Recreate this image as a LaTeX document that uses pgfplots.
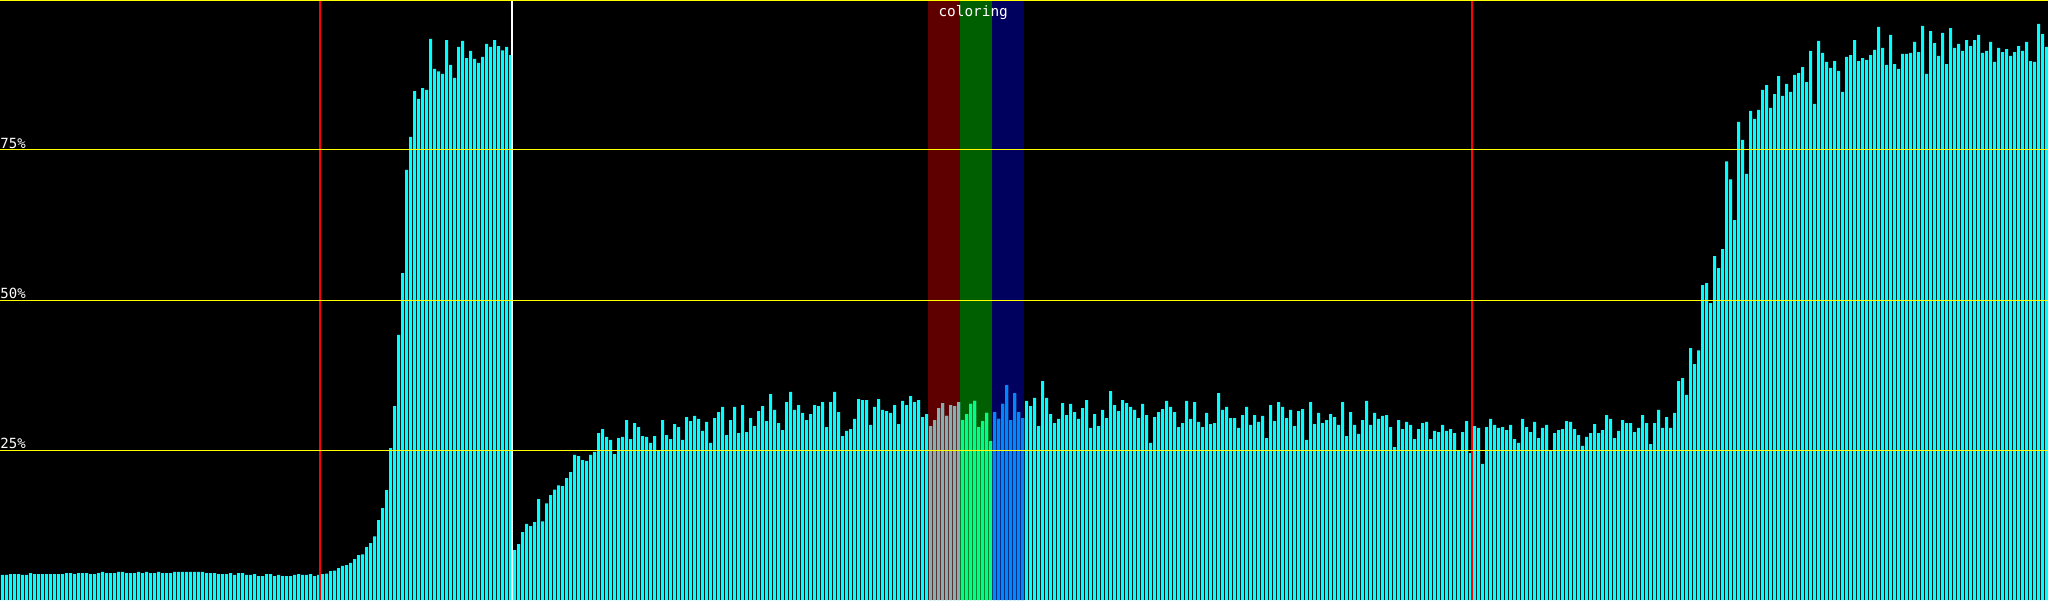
\documentclass[border=0pt]{standalone}
\usepackage{fontspec}
\setmonofont{DejaVu Sans Mono}
\usepackage{pgfplots}
\usepackage{pgfplotstable}
\pgfplotsset{compat=1.18}
\definecolor{barcyan}{HTML}{00FFFF}
\definecolor{bandred}{HTML}{5F0000}
\definecolor{bandgreen}{HTML}{005F00}
\definecolor{bandblue}{HTML}{00005F}
\definecolor{bargray}{HTML}{87AFAF}
\definecolor{bargreen}{HTML}{00FF87}
\definecolor{barblue}{HTML}{0087FF}
\definecolor{gridyellow}{HTML}{FFFF00}
\pgfplotstableread{
v
4.17
4.17
4.33
4.33
4.33
4.17
4.17
4.5
4.33
4.33
4.33
4.33
4.33
4.33
4.33
4.33
4.5
4.5
4.33
4.5
4.5
4.5
4.33
4.33
4.5
4.67
4.5
4.5
4.5
4.67
4.67
4.5
4.5
4.5
4.67
4.5
4.67
4.5
4.5
4.67
4.5
4.5
4.5
4.67
4.67
4.67
4.67
4.67
4.67
4.67
4.67
4.5
4.5
4.5
4.33
4.33
4.33
4.5
4.17
4.5
4.5
4.17
4.17
4.33
4.0
4.0
4.33
4.33
4.0
4.17
4.0
4.0
4.0
4.17
4.33
4.17
4.17
4.33
4.0
4.17
4.3
4.4
4.8
4.9
5.3
5.7
5.8
6.2
6.8
7.5
7.6
8.8
9.5
10.6
13.3
15.3
18.3
25.3
32.3
44.2
54.5
71.7
77.2
84.8
83.5
85.3
85.0
93.5
88.5
88.1
87.7
93.3
89.2
87.0
92.2
93.2
90.3
91.5
90.2
89.5
90.5
92.7
92.2
93.3
92.3
91.6
92.2
90.8
8.3
9.3
11.3
12.7
12.3
13.0
16.8
13.1
16.1
17.5
18.4
19.1
19.0
20.3
21.3
24.2
24.0
23.3
23.2
24.2
24.7
27.8
28.5
27.2
26.7
24.3
27.0
27.2
30.0
26.8
29.5
28.8
27.3
27.2
26.2
27.3
24.8
30.0
27.5
26.8
29.3
28.8
26.7
30.5
29.8
30.7
30.2
28.2
29.7
26.2
30.3
31.3
32.2
27.5
30.0
32.2
27.8
32.5
28.0
30.3
29.0
31.5
32.3
29.8
34.3
31.7
29.5
28.3
33.0
34.7
31.7
32.5
31.2
30.0
31.0
32.5
32.3
33.0
28.8
33.0
34.7
31.3
27.3
28.2
28.5
30.2
33.5
33.3
33.3
29.2
32.2
33.5
31.7
31.5
31.2
32.5
29.3
33.2
32.5
34.0
33.0
33.3
30.5
31.0
29.0
30.0
32.0
32.8
30.7
32.5
32.3
33.0
30.0
31.0
32.7
33.2
28.8
29.8
31.2
26.5
31.3
30.2
32.7
35.8
30.0
34.5
31.3
30.3
33.2
32.3
33.7
29.0
36.5
33.7
31.0
29.5
30.2
32.8
30.8
32.7
31.3
30.2
32.0
33.3
28.7
31.0
29.0
31.7
30.3
34.8
32.5
31.5
33.3
32.8
32.2
31.7
30.3
32.7
30.8
26.2
30.5
31.3
31.8
33.2
32.2
31.3
28.8
29.5
33.2
30.2
33.0
29.7
28.8
31.2
29.3
29.5
34.5
31.7
32.2
30.3
30.3
28.7
30.8
32.2
29.2
30.8
29.7
30.7
27.0
32.5
29.8
33.0
32.2
30.3
31.7
29.0
31.5
31.8
26.7
33.0
29.3
31.2
29.5
30.0
31.0
30.5
29.2
33.0
27.3
31.3
29.2
27.7
30.0
33.2
29.2
31.2
30.2
30.7
30.8
28.8
25.5
30.0
28.5
29.7
29.2
26.8
28.5
29.5
29.7
26.8
28.2
28.0
29.2
28.2
28.5
27.8
24.8
28.0
29.8
24.5
29.0
28.7
22.7
28.8
30.2
29.2
28.7
28.8
28.3
29.2
26.8
26.2
30.2
28.8
28.0
29.7
27.0
28.7
29.2
24.8
27.8
28.3
28.5
29.8
29.7
28.5
27.5
25.7
27.2
27.8
29.3
27.8
28.3
30.8
30.2
27.0
28.2
30.0
29.5
29.5
28.0
28.7
30.8
29.5
26.0
29.5
31.7
28.7
30.5
28.7
31.2
36.5
37.0
34.2
42.0
39.3
41.6
52.5
52.8
49.5
57.3
55.3
58.5
73.1
70.1
63.3
79.7
76.7
71.0
81.5
80.2
81.7
85.0
85.8
82.0
84.3
87.3
84.0
86.0
84.7
87.5
87.8
88.8
86.3
91.5
82.7
93.2
91.2
89.7
88.7
89.8
88.2
84.7
90.5
90.8
93.3
89.8
90.3
90.0
90.8
91.7
95.5
92.0
89.2
94.2
89.3
88.5
91.0
91.0
91.2
93.0
91.3
95.7
87.7
94.8
92.8
90.7
94.5
89.3
95.3
92.0
92.7
91.5
93.3
92.3
93.3
94.2
91.2
91.5
93.0
89.7
92.0
91.3
91.8
90.7
91.3
92.3
91.5
93.0
89.8
89.7
96.0
94.3
92.2
}\bars
\begin{document}
\begin{tikzpicture}
\begin{axis}[
  width=1024pt, height=300pt, scale only axis,
  xmin=0, xmax=512, ymin=0, ymax=100,
  axis background/.style={fill=black},
  axis line style={draw=none},
  tick style={draw=none},
  xtick=\empty,
  ytick={25,50,75},
  yticklabels={25\%,50\%,75\%},
  extra y ticks={99.9},
  extra y tick labels={},
  ymajorgrids,
  grid style={gridyellow, line width=0.5pt},
  yticklabel style={anchor=south west, inner sep=0pt, yshift=0.6pt,
    font=\ttfamily\fontsize{7}{8}\selectfont, text=white},
  axis on top,
]
\addplot[fill=bandred, draw=none] coordinates {(232,100) (240,100)} \closedcycle;
\addplot[fill=bandgreen, draw=none] coordinates {(240,100) (248,100)} \closedcycle;
\addplot[fill=bandblue, draw=none] coordinates {(248,100) (256,100)} \closedcycle;
\addplot[ybar, bar width=1.5pt, bar shift=0pt, fill=barcyan, draw=none]
  table[x expr=\coordindex+0.625, y=v] {\bars};
\addplot[ybar, bar width=1.5pt, bar shift=0pt, fill=bargray, draw=none,
  restrict x to domain=232:240]
  table[x expr=\coordindex+0.625, y=v] {\bars};
\addplot[ybar, bar width=1.5pt, bar shift=0pt, fill=bargreen, draw=none,
  restrict x to domain=240:248]
  table[x expr=\coordindex+0.625, y=v] {\bars};
\addplot[ybar, bar width=1.5pt, bar shift=0pt, fill=barblue, draw=none,
  restrict x to domain=248:256]
  table[x expr=\coordindex+0.625, y=v] {\bars};
\addplot[red, line width=1pt] coordinates {(80,0) (80,100)};
\addplot[white, line width=0.85pt] coordinates {(128,0) (128,100)};
\addplot[red, line width=1pt] coordinates {(368,0) (368,100)};
\node[anchor=north, inner sep=0pt, text=white, font=\ttfamily\fontsize{7.2}{8}\selectfont]
  at (axis cs:243.3,100) [yshift=-2.3pt] {coloring};
\end{axis}
\pgfresetboundingbox
\useasboundingbox (current axis.south west) rectangle (current axis.north east);
\end{tikzpicture}
\end{document}
